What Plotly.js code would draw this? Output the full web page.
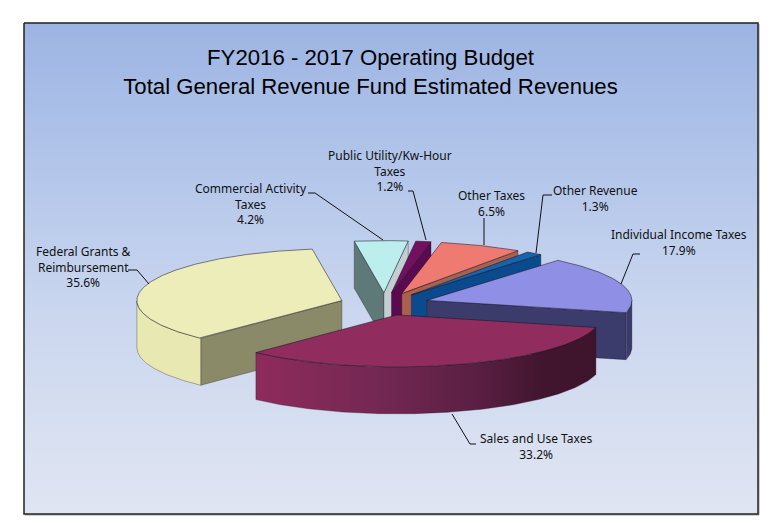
<!DOCTYPE html>
<html>
<head>
<meta charset="utf-8">
<script src="https://cdn.plot.ly/plotly-3.0.1.min.js"></script>
<style>html,body{margin:0;padding:0;background:#fff}#chart{width:778px;height:530px}</style>
</head>
<body>
<div id="chart"></div>
<script>
// Data, clockwise from the first slice
const categories = ["Sales and Use Taxes", "Federal Grants &<br>Reimbursement", "Commercial Activity<br>Taxes", "Public Utility/Kw-Hour<br>Taxes", "Other Taxes", "Other Revenue", "Individual Income Taxes"];
const shares = [33.2, 35.6, 4.2, 1.2, 6.5, 1.3, 17.9];

// Styles
const topColors = ["#912c5e", "#ecedb9", "#bdeeee", "#74105f", "#ef7a72", "#1764ae", "#8f8fe6"];
const cutColors = ["#5c1c3e", "#8a8a68", "#5f7878", "#5c0a50", "#a8604f", "#0c4a8e", "#3c3c6c"];
const cutColorsEnd = ["#5c1c3e", "#8a8a68", "#c2ced2", "#5c0a50", "#a8604f", "#0c4a8e", "#3c3c6c"];
const wallScales = [
  [[0, "#8e2b5c"], [0.35, "#742853"], [0.65, "#5a1f43"], [0.85, "#40152d"], [1, "#3e142c"]],
  [[0, "#e8e8b2"], [1, "#e8e8b2"]],
  null, null, null, null,
  [[0, "#3c3c6c"], [1, "#38386a"]]
];
const labelX = [536, 83, 251, 390, 491, 595, 679];
const labelY = [446, 267, 204, 171, 203, 198, 242];
const leaders = [
  [[476, 444], [470, 444], [452, 414]],
  [[128, 270], [137, 270], [149, 284]],
  [[308, 193], [315, 193], [383, 240]],
  [[408, 191], [413, 191], [426, 240]],
  [[484, 218], [484, 245]],
  [[552, 195], [543, 195], [536, 253]],
  [[640, 254], [633, 254], [621, 284]]
];
const titleLines = ["FY2016 - 2017 Operating Budget", "Total General Revenue Fund Estimated Revenues"];

// Pie projection (axis units equal page pixels)
const cx = 384.5, cy = 304, rx = 205, ry = 52, depth = 47, explode = 44.7, startDeg = 14;
const rad = d => d * Math.PI / 180;

// Slice angles from shares
let acc = startDeg;
const slices = shares.map((s, i) => {
  const t0 = acc, t1 = acc + s * 3.6; acc = t1;
  const m = rad((t0 + t1) / 2);
  return {i, t0, t1, ax: cx + explode * Math.cos(m), ay: cy + explode * ry / rx * Math.sin(m)};
});
const pt = (s, d) => [s.ax + rx * Math.cos(rad(d)), s.ay + ry * Math.sin(rad(d))];

function poly(pts, opt) {
  return Object.assign({
    type: "scatter", mode: "lines", x: pts.map(p => p[0]), y: pts.map(p => p[1]),
    fill: "toself", hoverinfo: "skip", showlegend: false,
    line: {color: "rgba(30,20,30,0.55)", width: 0.6}
  }, opt);
}

const traces = [];
// Frame panel with the vertical wash (y axis is reversed, so the scale runs bottom to top)
traces.push({
  type: "scatter", mode: "lines",
  x: [24, 758, 758, 24, 24], y: [23, 23, 514, 514, 23],
  fill: "toself", hoverinfo: "skip", showlegend: false,
  line: {color: "#222", width: 1.5},
  fillgradient: {type: "vertical", colorscale: [[0, "#e0e5f2"], [0.4, "#cbd7ef"], [0.7, "#b3c6ea"], [1, "#9db4e3"]]}
});

// Back to front
const order = [2, 3, 4, 5, 6, 1, 0];
order.forEach(k => {
  const s = slices[k];
  const a = [s.ax, s.ay], d = p => [p[0], p[1] + depth];
  // cut faces
  if (Math.cos(rad(s.t0)) < 0) {
    const p = pt(s, s.t0);
    traces.push(poly([a, p, d(p), d(a), a], {fillcolor: cutColors[k]}));
  }
  if (Math.cos(rad(s.t1)) > 0) {
    const p = pt(s, s.t1);
    traces.push(poly([a, p, d(p), d(a), a], {fillcolor: cutColorsEnd[k]}));
  }
  // outer wall: the part of the rim that faces the viewer
  const upper = [];
  for (let t = s.t0; t <= s.t1 + 1e-6; t += 0.5) {
    const norm = ((t % 360) + 360) % 360;
    if (norm <= 180) upper.push(pt(s, t));
  }
  if (upper.length > 1 && wallScales[k]) {
    const lower = upper.map(d).reverse();
    const ring = upper.concat(lower, [upper[0]]);
    traces.push(poly(ring, {fillgradient: {type: "horizontal", colorscale: wallScales[k]}}));
  }
  // top
  const top = [a];
  for (let t = s.t0; t < s.t1; t += 0.5) top.push(pt(s, t));
  top.push(pt(s, s.t1), a);
  traces.push(poly(top, {fillcolor: topColors[k], line: {color: "rgba(20,20,30,0.75)", width: 0.7}}));
});

const annotations = categories.map((c, i) => ({
  x: labelX[i], y: labelY[i], xref: "x", yref: "y", xanchor: "center", yanchor: "middle",
  showarrow: false, align: "center",
  text: c + "<br>" + shares[i].toFixed(1) + "%",
  font: {family: "Noto Sans, sans-serif", size: 12, color: "#111"}
}));

const shapes = leaders.map(l => ({
  type: "path", xref: "x", yref: "y", layer: "above",
  path: l.map((p, j) => (j ? "L" : "M") + p[0] + "," + p[1]).join(" "),
  line: {color: "#111", width: 1}
}));
// soft shadow of the frame
shapes.push({type: "line", xref: "x", yref: "y", x0: 759, x1: 759, y0: 24, y1: 515, line: {color: "#999", width: 1}, layer: "below"});
shapes.push({type: "line", xref: "x", yref: "y", x0: 25, x1: 759, y0: 515, y1: 515, line: {color: "#999", width: 1}, layer: "below"});

const layout = {
  width: 778, height: 530,
  margin: {l: 0, r: 0, t: 0, b: 0},
  paper_bgcolor: "#ffffff", plot_bgcolor: "rgba(0,0,0,0)",
  showlegend: false,
  title: {
    text: titleLines.join("<br>"),
    x: 370.5 / 778, xanchor: "center", xref: "paper",
    y: 1 - 65 / 530, yanchor: "top",
    font: {family: "Liberation Sans, Arial, sans-serif", size: 22.2, color: "#000"}
  },
  xaxis: {range: [0, 778], visible: false, fixedrange: true},
  yaxis: {range: [530, 0], visible: false, fixedrange: true},
  annotations, shapes
};
Plotly.newPlot("chart", traces, layout, {displayModeBar: false, staticPlot: true});
</script>
</body>
</html>
